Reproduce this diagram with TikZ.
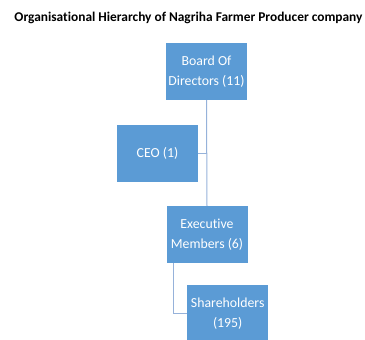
\documentclass[tikz,border=0pt]{standalone}
\usepackage{fontspec}
\setmainfont{Carlito}[Ligatures=NoCommon]
\usetikzlibrary{positioning}
\definecolor{boxblue}{RGB}{91,155,213}
\definecolor{linkblue}{RGB}{150,178,218}

\begin{document}
\begin{tikzpicture}[x=1pt,y=-1pt,
		unit/.style={fill=boxblue,text=white,minimum width=81pt,minimum height=57pt,
		inner sep=2pt,align=center,font=\fontsize{13.8}{19.5}\selectfont},
		link/.style={draw=linkblue,line width=1pt}]
		\useasboundingbox (0,0) rectangle (365,340);
		\node[font=\bfseries\fontsize{13.4}{15}\selectfont] (title) at (188.5,18) {Organisational Hierarchy of Nagriha Farmer Producer company};
		% boxes of the chart
		\node[unit] (board) at (206.5,71.5) {Board Of\\Directors (11)};
		\node[unit] (ceo) at (157.5,153.5) {CEO (1)};
		\node[unit] (exec) at (207,234.5) {Executive\\Members (6)};
		\node[unit,anchor=north west] (share) at (187,285) {Shareholders\\(195)};
		% links between them
		\begin{scope}[on background layer/.try]
		\draw[link] (board.south) -- (exec.north);
		\draw[link] (ceo.east) -- (board.south |- ceo.east);
		\draw[link] ([xshift=7pt]exec.south west) |- (share.west);
		\end{scope}
\end{tikzpicture}
\end{document}
